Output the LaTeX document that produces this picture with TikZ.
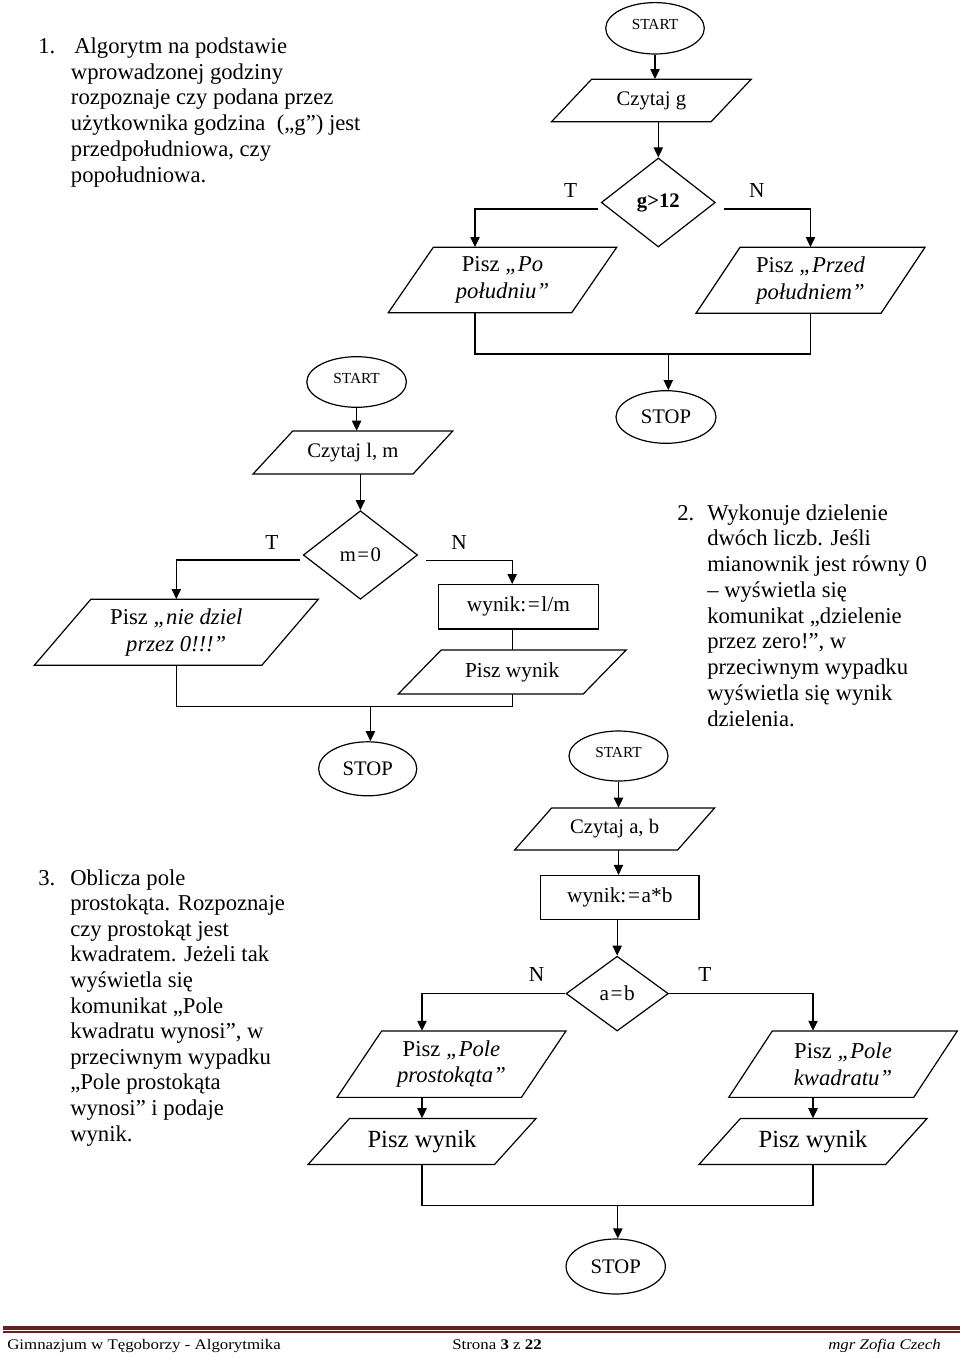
\documentclass[tikz,border=0pt]{standalone}
\usepackage{fontspec}
\setmainfont{Liberation Serif}
\newfontfamily\footfont[FakeStretch=1.15]{Liberation Serif}
\usetikzlibrary{shapes.geometric,arrows.meta,calc}
\definecolor{footred}{HTML}{622423}
\newcommand\iobox[8]{%
  \draw[line] ({#2-#4/2-#6/2},{#3+#5/2}) -- ({#2+#4/2-#6/2},{#3+#5/2}) --
    ({#2+#4/2+#6/2},{#3-#5/2}) -- ({#2-#4/2+#6/2},{#3-#5/2}) -- cycle;
  \node[inner sep=0pt, sz={#4}{#5}, align=center, font=#7] (#1) at (#2,#3) {#8};
}
\newcommand\twof{\fontsize{17}{20}\selectfont}
\newcommand\onef{\fontsize{15.5}{18}\selectfont}
\newcommand\bigf{\fontsize{18.5}{21}\selectfont}
\newcommand\eqs{\kern1.2pt=\kern1.2pt}
\begin{document}
\begin{tikzpicture}[x=0.75pt,y=-0.75pt,
  line/.style={draw=black,line width=0.9pt},
  arr/.style={line,-{Triangle[length=7.5pt,width=7pt]}},
  sz/.style 2 args={minimum width={#1*0.75pt},minimum height={#2*0.75pt}},
  term/.style={line,ellipse,inner sep=0pt},
  dec/.style={line,diamond,inner sep=0pt},
  proc/.style={line,rectangle,inner sep=0pt},
  lbl/.style={font=\fontsize{15.5}{18}\selectfont},
  startf/.style={font=\fontsize{11.5}{13}\selectfont,text depth=6pt,text height=7.6pt},
  yn/.style={font=\fontsize{16}{18}\selectfont},
  para/.style={anchor=base west,inner sep=0pt,font=\fontsize{17}{19.5}\selectfont}]
\useasboundingbox (0,0) rectangle (960,1358);

% ---------------- paragraph 1
\node[para] (n1) at (38,53.3) {1.};
\node[para] (pa0) at (74,53.3) {Algorytm na podstawie};
\foreach \t [count=\i from 1] in {wprowadzonej godziny,rozpoznaje czy podana przez,{użytkownika godzina~ („g”) jest},{przedpołudniowa, czy},popołudniowa.}
  \node[para] (pa\i) at (70.7,53.3+25.8*\i) {\t};

% ---------------- flowchart 1
\node[term,sz={98.6}{51.4},startf] (s1) at (655,28.3) {START};
\iobox{c1}{651.35}{100.5}{159.6}{42.4}{40}{\onef}{Czytaj g}
\node[dec,sz={114}{89},lbl] (d1) at (658.3,202.5) {\textbf{g>12}};
\node[yn] (t1l) at (570.7,190.7) {T};
\node[yn] (n1l) at (756.7,190.7) {N};
\iobox{p1l}{502.5}{280}{183.4}{65.4}{45}{\twof}{Pisz \textit{„Po}\\\textit{południu”}}
\iobox{p1r}{810.5}{280.3}{185}{66}{44}{\twof}{Pisz \textit{„Przed}\\\textit{południem”}}
\node[term,sz={100}{52.6},lbl] (e1) at (666,417) {STOP};
\coordinate (j1) at (668.3,354);
\draw[arr] (s1.south) -- (s1.south |- c1.north);
\draw[arr] (d1.north |- c1.south) -- (d1.north);
\draw[arr] ($(d1.west)+(-2.4,6.6)$) -| ($(p1l.north)+(-27.5,0)$);
\draw[arr] ($(d1.east)+(8.3,6.6)$) -| (p1r.north);
\draw[line] ($(p1l.south)+(-27.5,0)$) |- (j1) -| (p1r.south);
\draw[arr] (j1) -- (j1 |- e1.north);

% ---------------- flowchart 2
\node[term,sz={99.6}{50.6},startf] (s2) at (356.6,382) {START};
\iobox{c2}{352.9}{452.5}{160}{43}{39.7}{\onef}{Czytaj l, m}
\node[dec,sz={114.3}{88.6},lbl] (d2) at (360.4,555) {m\eqs0};
\node[yn] (t2l) at (272,542.7) {T};
\node[yn] (n2l) at (459,542.7) {N};
\iobox{p2l}{176.3}{632.3}{227.5}{66}{56.5}{\twof}{Pisz \textit{„nie dziel}\\\textit{przez 0!!!”}}
\node[proc,sz={159.6}{44.3},font=\fontsize{16}{18}\selectfont] (r2) at (518.4,606.8) {wynik:\eqs l/m};
\iobox{p2r}{512.2}{672}{185}{44}{43}{\fontsize{16}{18}\selectfont}{Pisz wynik}
\node[term,sz={98.2}{54},lbl] (e2) at (367.7,768.8) {STOP};
\coordinate (j2) at (370.4,706.7);
\draw[arr] (s2.south) -- (s2.south |- c2.north);
\draw[arr] (d2.north |- c2.south) -- (d2.north);
\draw[arr] ($(d2.west)+(-2.5,5)$) -| (p2l.north);
\draw[arr] ($(d2.east)+(8.2,5.7)$) -| (p2r.north |- r2.north);
\draw[line] (p2r.north |- r2.south) -- (p2r.north);
\draw[line] (p2l.south) |- (j2) -| (p2r.south);
\draw[arr] (j2) -- (j2 |- e2.north);

% ---------------- paragraph 2
\node[para] (n2) at (677,520) {2.};
\foreach \t [count=\i from 0] in {Wykonuje dzielenie,dwóch liczb. Jeśli,mianownik jest równy 0,– wyświetla się,komunikat „dzielenie,{przez zero!”, w},przeciwnym wypadku,wyświetla się wynik,dzielenia.}
  \node[para] (pb\i) at (707,520+25.75*\i) {\t};

% ---------------- paragraph 3
\node[para] (n3) at (38,885) {3.};
\foreach \t [count=\i from 0] in {Oblicza pole,prostokąta. Rozpoznaje,czy prostokąt jest,kwadratem. Jeżeli tak,wyświetla się,komunikat „Pole,{kwadratu wynosi”, w},przeciwnym wypadku,„Pole prostokąta,wynosi” i podaje,wynik.}
  \node[para] (pc\i) at (70,885+25.6*\i) {\t};

% ---------------- flowchart 3
\node[term,sz={99}{50},startf] (s3) at (618.5,756) {START};
\iobox{c3}{614.6}{829}{163}{42}{37}{\onef}{Czytaj a, b}
\node[proc,sz={158.3}{43.6},font=\fontsize{16}{18}\selectfont] (r3) at (619.8,897.3) {wynik:\eqs a*b};
\node[dec,sz={102.3}{74.8},font=\fontsize{16}{18}\selectfont] (d3) at (617.2,993.6) {a\eqs b};
\node[yn] (n3l) at (536.5,974.4) {N};
\node[yn] (t3l) at (704.9,974.4) {T};
\iobox{p3l}{451.5}{1064.2}{184.3}{66.3}{44.5}{\twof}{Pisz \textit{„Pole}\\\textit{prostokąta”}}
\iobox{p3lw}{422}{1141.5}{186.5}{46}{41.5}{\bigf}{Pisz wynik}
\iobox{p3r}{843}{1064.2}{185}{66.3}{43.5}{\twof}{Pisz \textit{„Pole}\\\textit{kwadratu”}}
\iobox{p3rw}{813}{1141.5}{186.7}{46}{41.4}{\bigf}{Pisz wynik}
\node[term,sz={99.3}{55},lbl] (e3) at (615.7,1266.5) {STOP};
\coordinate (j3) at (617.8,1205.3);
\draw[arr] (s3.south) -- (s3.south |- c3.north);
\draw[arr] (s3.south |- c3.south) -- (s3.south |- r3.north);
\draw[arr] (d3.north |- r3.south) -- (d3.north);
\draw[arr] (d3.west) -| (p3lw.north |- p3l.north);
\draw[arr] (d3.east) -| (p3rw.north |- p3r.north);
\draw[arr] (p3lw.north |- p3l.south) -- (p3lw.north);
\draw[arr] (p3rw.north |- p3r.south) -- (p3rw.north);
\draw[line] (p3lw.south) |- (j3) -| (p3rw.south);
\draw[arr] (j3) -- (j3 |- e3.north);

% ---------------- footer
\fill[footred] (3,1326) rectangle (960,1330);
\fill[footred] (3,1331.4) rectangle (960,1332.6);
\node[anchor=base west,inner sep=0pt,font=\footfont\fontsize{11}{13}\selectfont] (f1) at (7,1349.5) {Gimnazjum w Tęgoborzy - Algorytmika};
\node[anchor=base,inner sep=0pt,font=\footfont\fontsize{11}{13}\selectfont] (f2) at (497,1349.5) {Strona \textbf{3} z \textbf{22}};
\node[anchor=base east,inner sep=0pt,font=\footfont\fontsize{11}{13}\selectfont] (f3) at (941,1349.5) {\textit{mgr Zofia Czech}};
\end{tikzpicture}
\end{document}
